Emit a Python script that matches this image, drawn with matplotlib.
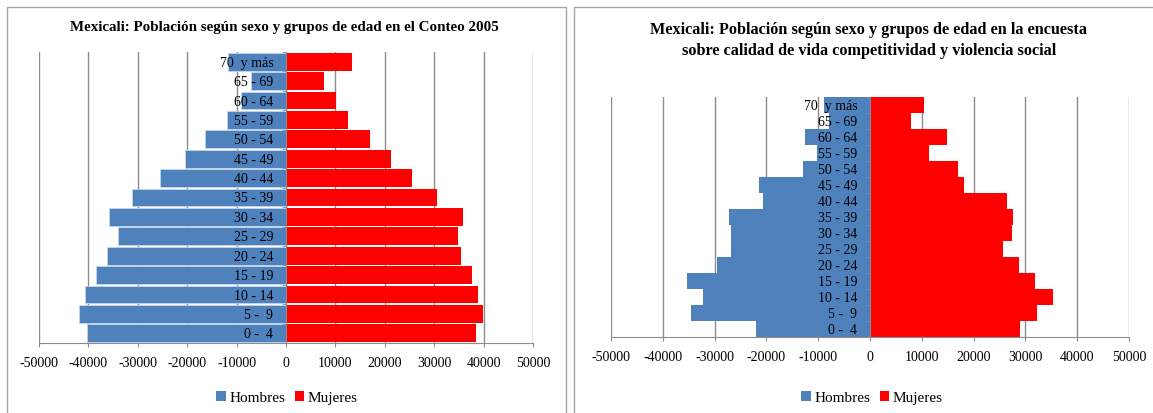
import matplotlib
matplotlib.use('Agg')
import matplotlib.pyplot as plt
from matplotlib.patches import Patch, Rectangle
import numpy as np

plt.rcParams['font.family'] = ['Liberation Serif', 'DejaVu Serif']
plt.rcParams['axes.unicode_minus'] = False

# Grupos de edad, de abajo hacia arriba
grupos = ["0 -  4", "5 -  9", "10 - 14", "15 - 19", "20 - 24", "25 - 29",
          "30 - 34", "35 - 39", "40 - 44", "45 - 49", "50 - 54", "55 - 59",
          "60 - 64", "65 - 69", "70  y más"]

# Conteo 2005
hombres_2005 = [40250, 41870, 40690, 38560, 36200, 34000, 35760, 31200,
                25540, 20460, 16480, 11850, 9050, 7130, 11700]
mujeres_2005 = [38410, 39880, 38780, 37600, 35390, 34800, 35760, 30620,
                25540, 21190, 17000, 12580, 10080, 7650, 13300]

# Encuesta sobre calidad de vida
hombres_enc = [22050, 34500, 32290, 35350, 29450, 26880, 26880, 27310,
               20630, 21340, 12940, 10200, 12520, 7900, 8900]
mujeres_enc = [29020, 32150, 35280, 31860, 28800, 25750, 27380, 27600,
               26530, 18140, 17070, 11380, 14940, 7970, 10380]

x_ticks = list(range(-50000, 50001, 10000))

AZUL = '#4f81bd'
ROJO = '#ff0000'
GRIS = '#8c8c8c'

W, H = 1153, 413
fig = plt.figure(figsize=(W / 100, H / 100), dpi=100, facecolor='white')


def px_rect(x0, y0, x1, y1):
    # pixel box (top-left origin) -> figure fraction [l, b, w, h]
    return [x0 / W, 1 - y1 / H, (x1 - x0) / W, (y1 - y0) / H]


# marcos de cada grafica
for (x0, y0, x1, y1) in [(7, 7, 566, 420), (574, 7, 1160, 420)]:
    fig.patches.append(Rectangle((x0 / W, 1 - y1 / H), (x1 - x0) / W, (y1 - y0) / H,
                                 transform=fig.transFigure, fill=False,
                                 edgecolor='#a6a6a6', linewidth=1.0))


def piramide(ax, hombres, mujeres, alto, borde):
    pos = np.arange(len(grupos))
    ax.barh(pos, -np.array(hombres), height=alto, color=AZUL,
            edgecolor=borde, linewidth=0.6 if borde != 'none' else 0, zorder=2)
    ax.barh(pos, mujeres, height=alto, color=ROJO, edgecolor='none', zorder=2)

    ax.set_xlim(-50000, 50000)
    ax.set_ylim(-0.5, len(grupos) - 0.5)
    ax.set_xticks(x_ticks)
    ax.set_xticklabels([str(v) for v in x_ticks])

    ax.set_axisbelow(True)
    ax.grid(axis='x', color=GRIS, linewidth=1.0)
    ax.yaxis.set_zorder(4)

    ax.spines['top'].set_visible(False)
    ax.spines['right'].set_visible(False)
    ax.spines['left'].set_position(('data', 0))
    ax.spines['left'].set_color(GRIS)
    ax.spines['left'].set_zorder(3)
    ax.spines['bottom'].set_color(GRIS)

    ax.set_yticks(pos)
    ax.set_yticklabels(grupos)
    ax.set_yticks(np.arange(len(grupos) + 1) - 0.5, minor=True)
    ax.tick_params(axis='y', which='major', length=0, pad=9, labelsize=10)
    ax.tick_params(axis='y', which='minor', length=3, direction='out', color=GRIS)
    ax.tick_params(axis='x', length=3, color=GRIS, pad=7, labelsize=10)


ax1 = fig.add_axes(px_rect(39, 52, 533, 343))
piramide(ax1, hombres_2005, mujeres_2005, 0.92, '#c6d6ea')
fig.text(284 / W, 1 - 27 / H,
         "Mexicali: Población según sexo y grupos de edad en el Conteo 2005",
         ha='center', va='center', fontsize=10.8, fontweight='bold')

ax2 = fig.add_axes(px_rect(611, 97, 1129, 337))
piramide(ax2, hombres_enc, mujeres_enc, 1.0, 'none')
fig.text(869 / W, 1 - 40.5 / H,
         "Mexicali: Población según sexo y grupos de edad en la encuesta\n"
         "sobre calidad de vida competitividad y violencia social",
         ha='center', va='center', fontsize=11.7, fontweight='bold', linespacing=1.45)

handles = [Patch(facecolor=AZUL, label='Hombres'), Patch(facecolor=ROJO, label='Mujeres')]
for cx in (287, 872):
    fig.legend(handles=handles, loc='center', bbox_to_anchor=(cx / W, 1 - 398 / H),
               ncol=2, frameon=False, fontsize=11, handlelength=0.6, handleheight=0.6,
               handletextpad=0.25, columnspacing=0.6, borderpad=0)

fig.savefig('out.png', dpi=100, facecolor='white')
